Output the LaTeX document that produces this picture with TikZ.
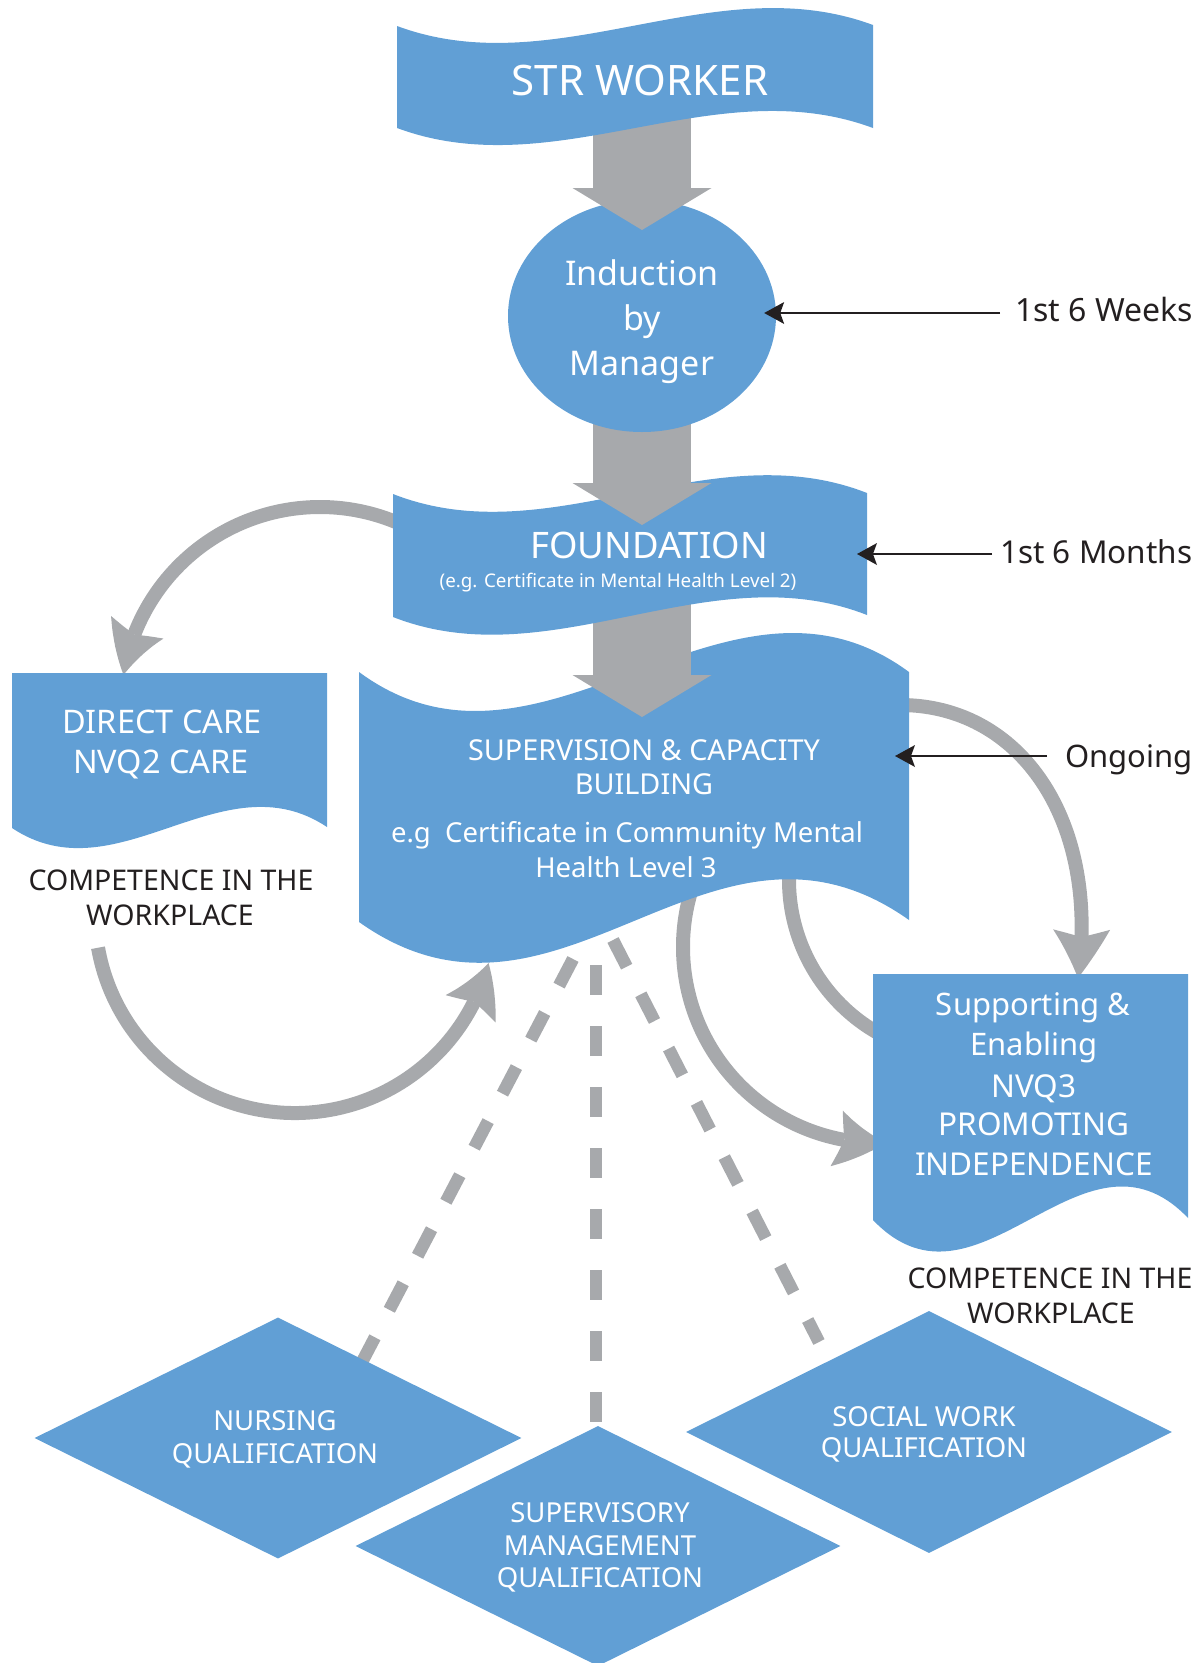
\documentclass[tikz,border=0pt]{standalone}
\usepackage{fontspec}
\setmainfont{Noto Sans}
\usetikzlibrary{shapes.geometric, arrows.meta, bending, calc}
\definecolor{blueC}{RGB}{97,159,213}
\definecolor{grayC}{RGB}{167,169,172}
\definecolor{inkC}{RGB}{35,31,32}
\tikzset{
  shapefill/.style={fill=blueC, draw=none},
  garc/.style={draw=grayC, line width=14pt},
  garrow/.style={garc, -{Stealth[length=50pt, width=57pt, inset=8pt, line width=0pt, bend]}},
  gdash/.style={draw=grayC, line width=12.5pt, dash pattern=on 30pt off 31pt},
  blockarrow/.style={draw=grayC, line width=98pt, -{Triangle[length=42pt, width=139pt, line width=0pt]}},
  blkarrow/.style={draw=inkC, line width=2pt, -{Stealth[length=20pt, width=22pt, inset=4pt, line width=0pt]}},
  wtxt/.style={text=white, inner sep=0pt, anchor=base, font=\fontsize{#1}{#1}\selectfont},
  btxt/.style={text=inkC, inner sep=0pt, anchor=base, font=\fontsize{#1}{#1}\selectfont},
}
\begin{document}
\begin{tikzpicture}[x=1pt, y=-1pt]
\useasboundingbox (0,0) rectangle (1201,1663);

% ---------- named coordinates ----------
\coordinate (aA-s) at ($(320,706)+(-62:199)$);
\coordinate (aB-s) at (900,705);
\coordinate (aB-e) at (1078,978);
\coordinate (aC-s) at ($(295,913)+(170:200)$);
\coordinate (aD-s) at ($(879,947)+(200:196)$);
\coordinate (aE-s) at ($(965,880)+(185:176)$);
\coordinate (dL-s) at (573,959);
\coordinate (dL-e) at (362,1362);
\coordinate (dC-s) at (596,965);
\coordinate (dC-e) at (596,1422);
\coordinate (dR-s) at (613,940);
\coordinate (dR-e) at (819,1342);

% ---------- curved grey arrows ----------
\draw[garrow] (aA-s) arc[start angle=-62, end angle=-171, radius=199];
\draw[garrow] (aB-s) .. controls (1020,705) and (1100,820) .. (aB-e);
\draw[garrow] (aC-s) arc[start angle=170, end angle=14.5, radius=200];
\draw[garrow] (aD-s) arc[start angle=200, end angle=88, radius=196];
\draw[garc] (aE-s) arc[start angle=185, end angle=118, radius=176];

% ---------- dashed lines ----------
\draw[gdash] (dL-s) -- (dL-e);
\draw[gdash] (dC-s) -- (dC-e);
\draw[gdash] (dR-s) -- (dR-e);

% ---------- diamonds ----------
\node[diamond, shapefill, minimum width=487pt, minimum height=241pt, inner sep=0pt] (nurs) at (278,1438) {};
\node[diamond, shapefill, minimum width=485pt, minimum height=240pt, inner sep=0pt] (smgmt) at (598,1546) {};
\node[diamond, shapefill, minimum width=486pt, minimum height=242pt, inner sep=0pt] (social) at (929,1432) {};

% ---------- document boxes ----------
\fill[blueC] (12,673) -- (327,673) -- (327,827) .. controls (222,757) and (117,898) .. (12,828) -- cycle;
\fill[blueC] (873,974) -- (1188,974) -- (1188,1218) .. controls (1083,1108) and (978,1330) .. (873,1220) -- cycle;

% ---------- supervision box ----------
\fill[blueC] (359,672) .. controls (542,807) and (726,537) .. (909,672) -- (909,920)
  .. controls (709,778) and (559,1064) .. (359,922) -- cycle;
\coordinate (sup-e) at (909,756);

% block arrow foundation -> supervision
\coordinate (a3-s) at (642,590);
\coordinate (a3-e) at (642,717);
\draw[blockarrow] (a3-s) -- (a3-e);

% ---------- foundation banner ----------
\fill[blueC] (393,494) .. controls (551,556) and (709,431) .. (867,493) -- (867,615)
  .. controls (709,553) and (551,679) .. (393,617) -- cycle;
\coordinate (fnd-e) at (867,554);

% block arrow induction -> foundation
\coordinate (a2-s) at (642,415);
\coordinate (a2-e) at (642,525);
\draw[blockarrow] (a2-s) -- (a2-e);

% ---------- induction ellipse ----------
\node[ellipse, shapefill, minimum width=268pt, minimum height=232pt, inner sep=0pt] (induct) at (642,316) {};

% block arrow str -> induction
\coordinate (a1-s) at (642,110);
\coordinate (a1-e) at (642,230);
\draw[blockarrow] (a1-s) -- (a1-e);

% ---------- STR banner ----------
\fill[blueC] (397,26) .. controls (556,85) and (714,-34) .. (873,25) -- (873,128)
  .. controls (714,69) and (556,187) .. (397,128) -- cycle;

% ---------- texts ----------
\node[wtxt=42] (t-str) at (640,95) {STR WORKER};
\node[wtxt=34] (t-ind1) at (642,285) {Induction};
\node[wtxt=34] (t-ind2) at (642,330) {by};
\node[wtxt=34] (t-ind3) at (642,375) {Manager};
\node[wtxt=36.5] (t-fnd) at (649,558) {FOUNDATION};
\node[wtxt=18.8] (t-fnd2) at (618,587) {(e.g. Certificate in Mental Health Level 2)};
\node[wtxt=28.8] (t-sup1) at (644,760) {SUPERVISION \& CAPACITY};
\node[wtxt=28.8] (t-sup2) at (644,794) {BUILDING};
\node[wtxt=27.5] (t-sup3) at (627,842) {e.g\ \ Certificate in Community Mental};
\node[wtxt=27.5] (t-sup4) at (626,877) {Health Level 3};
\node[wtxt=32.5] (t-dc1) at (162,733) {DIRECT CARE};
\node[wtxt=32.5] (t-dc2) at (161,773) {NVQ2 CARE};
\node[btxt=28.5] (t-cw1) at (171,890) {COMPETENCE IN THE};
\node[btxt=28.5] (t-cw2) at (170,925) {WORKPLACE};
\node[wtxt=31] (t-se1) at (1033,1015) {Supporting \&};
\node[wtxt=31] (t-se2) at (1034,1055) {Enabling};
\node[wtxt=31.5] (t-se3) at (1034,1097) {NVQ3};
\node[wtxt=31.5] (t-se4) at (1034,1135) {PROMOTING};
\node[wtxt=31.5] (t-se5) at (1034,1175) {INDEPENDENCE};
\node[btxt=28.5] (t-cr1) at (1050,1288) {COMPETENCE IN THE};
\node[btxt=28.5] (t-cr2) at (1051,1323) {WORKPLACE};
\node[wtxt=27.5] (t-n1) at (275,1430) {NURSING};
\node[wtxt=27.5] (t-n2) at (275,1463) {QUALIFICATION};
\node[wtxt=27.5] (t-m1) at (600,1522) {SUPERVISORY};
\node[wtxt=27.5] (t-m2) at (600,1555) {MANAGEMENT};
\node[wtxt=27.5] (t-m3) at (600,1587) {QUALIFICATION};
\node[wtxt=27.5] (t-s1) at (924,1426) {SOCIAL WORK};
\node[wtxt=27.5] (t-s2) at (924,1457) {QUALIFICATION};

% side labels with black arrows
\node[text=inkC, font=\fontsize{32}{32}\selectfont, inner xsep=15pt, inner ysep=0pt, text height=16pt, text depth=0pt, anchor=base west] (t-weeks) at (1000,321) {1st 6 Weeks};
\node[text=inkC, font=\fontsize{31.5}{31.5}\selectfont, inner xsep=8pt, inner ysep=0pt, text height=18pt, text depth=0pt, anchor=base west] (t-months) at (992,563) {1st 6 Months};
\node[text=inkC, font=\fontsize{31}{31}\selectfont, inner xsep=18pt, inner ysep=0pt, text height=22pt, text depth=0pt, anchor=base west] (t-ong) at (1047,767) {Ongoing};
\draw[blkarrow] (t-weeks.west) -- ([xshift=-12pt]t-weeks.west -| induct.east);
\draw[blkarrow] (t-months.west) -- ([xshift=-10pt]t-months.west -| fnd-e);
\draw[blkarrow] (t-ong.west) -- ([xshift=-14pt]t-ong.west -| sup-e);
\end{tikzpicture}
\end{document}
